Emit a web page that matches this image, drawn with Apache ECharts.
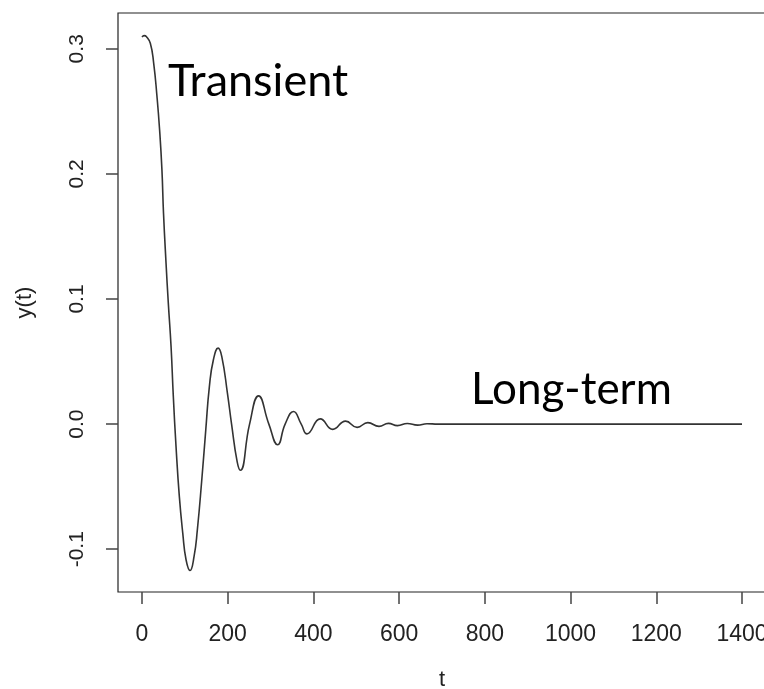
<!DOCTYPE html>
<html><head><meta charset="utf-8">
<script src="https://cdn.jsdelivr.net/npm/echarts@6/dist/echarts.min.js"></script>
<style>html,body{margin:0;padding:0;background:#fff}#c{width:764px;height:689px}</style>
</head><body><div id="c"></div>
<script>
// time values
const tValues = [0, 5, 10, 19.4, 27.3, 35, 41.1, 46.5, 50.2, 56.1, 61.4, 67.8, 73.1, 79.4, 87.1, 95.1, 102.8, 112.1, 121.5, 129.2, 139.5, 148.8, 157.2, 166.6, 177.6, 186.2, 199.3, 209, 222, 229.5, 251, 272, 296, 316.5, 334, 353.5, 371.5, 385, 416, 445, 475, 502, 527, 553, 575, 596, 619, 643, 665, 690, 1400];
// y(t) values
const yValues = [0.3095, 0.3105, 0.3098, 0.3044, 0.2884, 0.2617, 0.2351, 0.2032, 0.1686, 0.1286, 0.0967, 0.0620, 0.0220, -0.0179, -0.0578, -0.0871, -0.1084, -0.1170, -0.1058, -0.0844, -0.0445, -0.0046, 0.0300, 0.0514, 0.0607, 0.0540, 0.0248, 0, -0.030, -0.0369, 0, 0.0226, 0, -0.0165, 0, 0.0101, 0, -0.0078, 0.0042, -0.0042, 0.0024, -0.0026, 0.0012, -0.0018, 0.0006, -0.0012, 0.0005, -0.0008, 0.0003, 0, 0];
const xTicks = [0, 200, 400, 600, 800, 1000, 1200, 1400];
const yTicks = [-0.1, 0.0, 0.1, 0.2, 0.3];
const labels = ['Transient', 'Long-term'];

const data = tValues.map((t, i) => [t, yValues[i]]);
const chart = echarts.init(document.getElementById('c'), null, {renderer: 'canvas'});
const axisFont = 'Liberation Sans';
chart.setOption({
  animation: false,
  backgroundColor: '#fff',
  grid: {left: 118, top: 13, right: -2, height: 579, show: true, borderColor: '#222', borderWidth: 1.2,
    containLabel: false, outerBoundsMode: 'none'},
  xAxis: {
    type: 'value', min: -56, max: 1456,
    splitLine: {show: false},
    axisLine: {show: false, onZero: false},
    axisTick: {show: true, customValues: xTicks, length: 12, lineStyle: {color: '#444', width: 1.5}},
    axisLabel: {customValues: xTicks, fontSize: 23, fontFamily: axisFont, color: '#222', margin: 31,
      formatter: v => String(v)},
    name: 't', nameLocation: 'middle', nameGap: 77,
    nameTextStyle: {fontSize: 22, fontFamily: axisFont, color: '#222'}
  },
  yAxis: {
    type: 'value', min: -0.1342, max: 0.3286,
    splitLine: {show: false},
    axisLine: {show: false, onZero: false},
    axisTick: {show: true, customValues: yTicks, length: 12, lineStyle: {color: '#444', width: 1.5}},
    axisLabel: {customValues: yTicks, rotate: 90, fontSize: 21, fontFamily: axisFont, color: '#222', margin: 30,
      formatter: v => v.toFixed(1)},
    name: 'y(t)', nameLocation: 'middle', nameGap: 82, nameRotate: 90,
    nameTextStyle: {fontSize: 22, fontFamily: axisFont, color: '#222'}
  },
  series: [{
    type: 'line', data: data, showSymbol: false, smooth: 0.5,
    lineStyle: {color: '#333', width: 1.6}, silent: true
  }],
  graphic: [
    {type: 'text', left: 168, top: 59, style: {text: labels[0], font: '45px Lato', fill: '#000'}},
    {type: 'text', left: 471, top: 368, style: {text: labels[1], font: '44px Lato', fill: '#000'}}
  ]
});
</script></body></html>
